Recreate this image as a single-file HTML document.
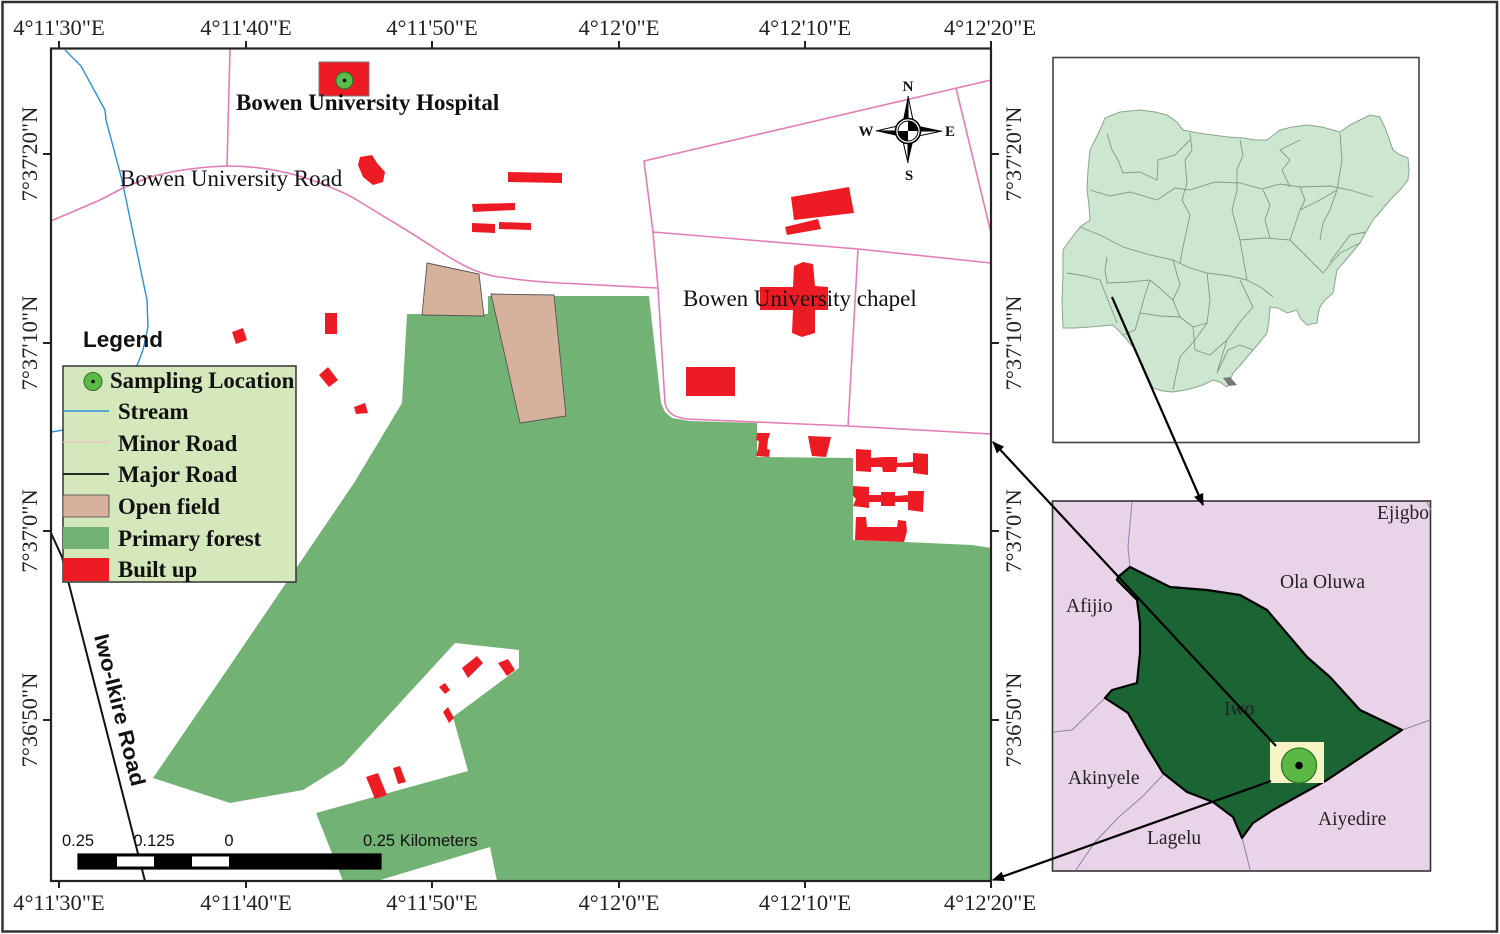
<!DOCTYPE html>
<html><head><meta charset="utf-8"><style>
html,body{margin:0;padding:0;background:#fff;}
svg{display:block;}
.ax{font-family:"Liberation Serif",serif;font-size:22.5px;fill:#222;}
.lg{font-family:"Liberation Serif",serif;font-size:22.8px;font-weight:bold;fill:#111;}
.lb{font-family:"Liberation Serif",serif;font-size:23px;fill:#111;}
.ins{font-family:"Liberation Serif",serif;font-size:19.5px;fill:#222;}
.sc{font-family:"Liberation Sans",sans-serif;font-size:16.5px;fill:#111;}
</style></head><body>
<svg width="1500" height="934" viewBox="0 0 1500 934" xmlns="http://www.w3.org/2000/svg">
<defs>
<marker id="ah" viewBox="0 0 12 10" refX="11" refY="5" markerWidth="12" markerHeight="10" markerUnits="userSpaceOnUse" orient="auto">
<path d="M0,0 L12,5 L0,10 Z" fill="#000"/>
</marker>
</defs>
<rect x="0" y="0" width="1500" height="934" fill="#fff"/>
<rect x="2.5" y="2" width="1494.5" height="929.5" fill="none" stroke="#333" stroke-width="2.5"/>

<!-- forest -->
<path d="M407,314 L488,314 L488,296 L649,296 L661,403 L665,412 L672,418 L690,421 L757,423 L757,457 L853,458 L853,540 L905,542 L972,545 L991,548 L991,881 L497,881 L490,847 L377,881 L343,881 L316,813 L468,771 L453,717 L519,668 L519,650 L455,643 L343,765 L303,790 L230,803 L153,778 L227,670 L354,483 L402,403 Z" fill="#72b274"/>
<!-- open fields -->
<polygon points="427,263 479,274 484,316 422,315" fill="#d6b19c" stroke="#555" stroke-width="0.9"/>
<polygon points="491,294 554,295 566,416 520,423" fill="#d6b19c" stroke="#555" stroke-width="0.9"/>

<!-- roads (pink) -->
<g fill="none" stroke="#e47db5" stroke-width="1.6">
<path d="M51,221 L100,200 L123,188 L150,177 C175,170 200,167 227,166 C260,166 290,172 317,182 C335,189 350,195 360,202 C375,211 385,217 393,222 C410,232 425,242 433,247 C447,256 457,262 467,267 C480,273 490,276 500,277 C520,280 540,282 560,283 L657,288"/>
<path d="M230,49 L227,166"/>
<path d="M991,80 L644,161 L653,232 L658,288 L665,403 C667,412 672,417 687,419 L848,426 L991,434"/>
<path d="M653,232 L858,249 L991,263"/>
<path d="M858,249 L848,426"/>
<path d="M956,88 L991,233"/>
</g>

<!-- stream -->
<path d="M65,50 L81,66 L105,110 L106,120 L122,180 L133,233 L147,300 L148,327 L143,350 L138,363 L125,390 L100,418 L70,429 L51,432" fill="none" stroke="#2a8fdc" stroke-width="1.4"/>

<!-- major road -->
<path d="M51,533 L62,557 L145,881" fill="none" stroke="#111" stroke-width="2"/>

<!-- built up -->
<g fill="#ed1c24">
<rect x="319" y="62" width="50" height="34" stroke="#777" stroke-width="1"/>
<polygon points="360,157 372,155 377,163 385,172 383,182 373,185 363,177 358,165"/>
<polygon points="508,172 562,173 562,183 508,182"/>
<polygon points="472,204 515,203 515,210 473,212"/>
<polygon points="472,223 495,224 495,233 472,232"/>
<polygon points="499,222 531,223 531,230 499,229"/>
<polygon points="791,197 849,187 854,213 794,220"/>
<polygon points="785,227 818,219 821,229 787,235"/>
<polygon points="803,262 813,264 815,286 828,287 828,310 815,310 815,333 802,337 792,333 793,310 760,310 760,287 793,287 794,266"/>
<rect x="686" y="367" width="49" height="29"/>
<polygon points="757,433 770,433 768,440 767,449 770,450 769,457 756,456 758,449 759,441 756,440"/>
<polygon points="808,436 831,437 828,450 826,457 812,456 810,447"/>
<polygon points="856,449 871,450 871,458 883,457 897,457 897,463 913,462 913,453 928,454 928,475 913,473 913,467 897,467 896,472 883,472 882,467 871,467 871,472 856,471"/>
<polygon points="853,486 869,487 869,495 881,495 881,492 895,492 895,496 908,495 908,491 924,491 923,512 908,510 908,502 895,502 895,506 881,506 881,502 869,502 869,508 853,506 856,499 853,496"/>
<polygon points="856,517 866,517 867,527 897,527 898,520 906,521 907,531 904,542 855,540"/>
<polygon points="232,332 243,328 247,340 236,344"/>
<rect x="325" y="313" width="12" height="21"/>
<polygon points="319,375 328,367 338,380 329,387"/>
<polygon points="354,407 365,403 368,413 356,414"/>
<polygon points="462,668 477,656 483,663 468,678"/>
<polygon points="498,663 508,659 515,670 507,676"/>
<polygon points="439,687 445,683 450,690 445,694"/>
<polygon points="443,712 448,707 454,718 449,723"/>
<polygon points="366,777 378,773 387,795 375,799"/>
<polygon points="393,768 400,766 406,782 398,784"/>
</g>
<!-- hospital sampling marker -->
<circle cx="344.5" cy="80.5" r="8.5" fill="#5cba47" stroke="#2e6e2e" stroke-width="1"/>
<circle cx="344.5" cy="80.5" r="1.8" fill="#000"/>

<!-- map labels -->
<text x="236" y="110" class="lb" font-weight="bold">Bowen University Hospital</text>
<text x="120" y="186" class="lb">Bowen University Road</text>
<text x="683" y="306" class="lb">Bowen University chapel</text>
<text transform="translate(94,636) rotate(76)" font-family="Liberation Sans, sans-serif" font-size="21" font-weight="bold" fill="#111" textLength="156" lengthAdjust="spacingAndGlyphs">Iwo-Ikire Road</text>

<!-- compass -->
<g transform="translate(908,131)">
<polygon points="0,-35 -6,-6 0,0" fill="#000"/>
<polygon points="0,-35 6,-6 0,0" fill="#fff" stroke="#000" stroke-width="1"/>
<polygon points="0,32 6,6 0,0" fill="#000"/>
<polygon points="0,32 -6,6 0,0" fill="#fff" stroke="#000" stroke-width="1"/>
<polygon points="-32,0 -6,6 0,0" fill="#000"/>
<polygon points="-32,0 -6,-6 0,0" fill="#fff" stroke="#000" stroke-width="1"/>
<polygon points="34,0 6,-6 0,0" fill="#000"/>
<polygon points="34,0 6,6 0,0" fill="#fff" stroke="#000" stroke-width="1"/>
<circle r="12.5" fill="#fff" stroke="#000" stroke-width="1.6"/>
<path d="M0,0 L0,-10 A10,10 0 0 1 10,0 Z" fill="#000"/>
<path d="M0,0 L0,10 A10,10 0 0 1 -10,0 Z" fill="#000"/>
<circle r="10" fill="none" stroke="#000" stroke-width="1"/>
</g>
<g font-family="Liberation Serif, serif" font-size="15" font-weight="bold" fill="#111" text-anchor="middle">
<text x="908" y="91">N</text>
<text x="909" y="180">S</text>
<text x="866" y="136">W</text>
<text x="950" y="136">E</text>
</g>

<!-- scale bar -->
<g stroke="#000" stroke-width="1.2">
<rect x="78" y="854" width="303" height="15" fill="#000"/>
<rect x="117" y="856.5" width="37" height="10" fill="#fff" stroke="none"/>
<rect x="192" y="856.5" width="37" height="10" fill="#fff" stroke="none"/>
</g>
<text x="78" y="846" class="sc" text-anchor="middle">0.25</text>
<text x="154" y="846" class="sc" text-anchor="middle">0.125</text>
<text x="229" y="846" class="sc" text-anchor="middle">0</text>
<text x="363" y="846" class="sc">0.25 Kilometers</text>

<!-- legend -->
<text x="83" y="347" font-family="Liberation Sans, sans-serif" font-size="22.5" font-weight="bold" fill="#111">Legend</text>
<rect x="63" y="366" width="233" height="216" fill="#d4e8bc" stroke="#333" stroke-width="1.5"/>
<circle cx="93" cy="381.5" r="9" fill="#5cba47" stroke="#2e6e2e" stroke-width="1"/>
<circle cx="93" cy="381.5" r="1.8" fill="#000"/>
<line x1="63" y1="411" x2="109" y2="411" stroke="#2a8fdc" stroke-width="1.5"/>
<line x1="63" y1="442" x2="109" y2="442" stroke="#f0bcc4" stroke-width="1.2"/>
<line x1="63" y1="474" x2="109" y2="474" stroke="#111" stroke-width="1.8"/>
<rect x="63" y="495" width="46" height="22" fill="#d6b19c" stroke="#555" stroke-width="0.9"/>
<rect x="63" y="527" width="46" height="22" fill="#72b274"/>
<rect x="63" y="558" width="46" height="23" fill="#ed1c24"/>
<text x="110" y="388" class="lg">Sampling Location</text>
<text x="118" y="419" class="lg">Stream</text>
<text x="118" y="451" class="lg">Minor Road</text>
<text x="118" y="482" class="lg">Major Road</text>
<text x="118" y="514" class="lg">Open field</text>
<text x="118" y="546" class="lg">Primary forest</text>
<text x="118" y="577" class="lg">Built up</text>

<!-- frame & ticks -->
<rect x="51" y="48.5" width="940" height="832.5" fill="none" stroke="#222" stroke-width="2.2"/>
<g stroke="#222" stroke-width="2">
<line x1="59" y1="41" x2="59" y2="48"/><line x1="246" y1="41" x2="246" y2="48"/><line x1="432" y1="41" x2="432" y2="48"/><line x1="619" y1="41" x2="619" y2="48"/><line x1="805" y1="41" x2="805" y2="48"/><line x1="991" y1="41" x2="991" y2="48"/>
<line x1="59" y1="881" x2="59" y2="888"/><line x1="246" y1="881" x2="246" y2="888"/><line x1="432" y1="881" x2="432" y2="888"/><line x1="619" y1="881" x2="619" y2="888"/><line x1="805" y1="881" x2="805" y2="888"/><line x1="991" y1="881" x2="991" y2="888"/>
<line x1="43" y1="154" x2="51" y2="154"/><line x1="43" y1="343" x2="51" y2="343"/><line x1="43" y1="531" x2="51" y2="531"/><line x1="43" y1="720" x2="51" y2="720"/>
<line x1="991" y1="154" x2="999" y2="154"/><line x1="991" y1="343" x2="999" y2="343"/><line x1="991" y1="531" x2="999" y2="531"/><line x1="991" y1="720" x2="999" y2="720"/>
</g>
<g class="ax" text-anchor="middle">
<text x="59" y="35">4°11'30"E</text><text x="246" y="35">4°11'40"E</text><text x="432" y="35">4°11'50"E</text><text x="619" y="35">4°12'0"E</text><text x="805" y="35">4°12'10"E</text><text x="990" y="35">4°12'20"E</text>
<text x="59" y="910">4°11'30"E</text><text x="246" y="910">4°11'40"E</text><text x="432" y="910">4°11'50"E</text><text x="619" y="910">4°12'0"E</text><text x="805" y="910">4°12'10"E</text><text x="990" y="910">4°12'20"E</text>
<text transform="translate(37,154) rotate(-90)">7°37'20"N</text>
<text transform="translate(37,343) rotate(-90)">7°37'10"N</text>
<text transform="translate(37,531) rotate(-90)">7°37'0"N</text>
<text transform="translate(37,720) rotate(-90)">7°36'50"N</text>
<text transform="translate(1021,154) rotate(-90)">7°37'20"N</text>
<text transform="translate(1021,343) rotate(-90)">7°37'10"N</text>
<text transform="translate(1021,531) rotate(-90)">7°37'0"N</text>
<text transform="translate(1021,720) rotate(-90)">7°36'50"N</text>
</g>

<!-- Nigeria inset -->
<rect x="1053" y="57.5" width="366" height="385" fill="#fff" stroke="#444" stroke-width="1.6"/>
<polygon points="1105,118 1120,112 1140,110 1155,112 1167,115 1177,122 1183,130 1198,133 1213,135 1228,137 1243,138 1255,140 1267,140 1275,134 1280,130 1292,127 1307,125 1322,127 1340,132 1350,125 1360,120 1370,115 1380,117 1386,130 1393,150 1400,155 1408,158 1409,170 1408,180 1400,190 1390,200 1380,212 1373,220 1366,232 1360,243 1350,255 1337,270 1335,282 1333,293 1325,300 1320,307 1318,315 1317,323 1307,325 1300,318 1297,310 1287,313 1278,308 1270,307 1269,320 1267,333 1260,342 1253,350 1243,362 1233,373 1230,380 1227,387 1220,382 1213,380 1205,384 1197,387 1185,390 1173,392 1163,391 1153,388 1145,370 1138,355 1133,347 1123,335 1113,325 1090,327 1075,328 1063,328 1062,300 1063,275 1063,250 1070,240 1080,227 1090,220 1089,205 1087,190 1088,170 1090,150 1095,140 1100,130" fill="#cde6cf" stroke="#8aa58d" stroke-width="1"/>
<g fill="none" stroke="#7f9a83" stroke-width="0.9">
<path d="M1080,227 L1100,235 L1123,247 L1150,255 L1173,260 L1190,268 L1207,273 L1230,276 L1247,280 L1262,288 L1273,297"/>
<path d="M1190,133 L1192,150 L1185,160 L1187,183 L1182,200 L1190,215 L1183,247 L1180,263"/>
<path d="M1240,140 L1243,155 L1237,170 L1237,190 L1232,210 L1240,240 L1247,280"/>
<path d="M1340,133 L1342,160 L1337,190 L1330,210 L1323,223 L1320,240"/>
<path d="M1107,133 L1112,150 L1118,160 L1123,173 L1140,172 L1157,180"/>
<path d="M1090,190 L1110,196 L1130,192 L1157,200 L1175,188 L1190,190 L1215,182 L1240,183 L1262,189 L1280,184 L1300,187 L1330,186 L1350,190 L1373,197"/>
<path d="M1207,273 L1210,300 L1207,323 L1195,340 L1180,357 L1176,375 L1173,390"/>
<path d="M1107,257 L1105,270 L1107,283 L1130,282 L1150,280 L1162,290 L1173,300"/>
<path d="M1240,280 L1253,307 L1240,322 L1227,340 L1222,356 L1217,373"/>
<path d="M1290,240 L1305,255 L1323,273 L1332,262 L1340,253 L1360,243"/>
<path d="M1067,273 L1085,276 L1100,280 L1108,300 L1117,323"/>
<path d="M1140,313 L1160,316 L1180,317 L1193,327 L1207,323"/>
<path d="M1157,180 L1158,160 L1175,155 L1190,140"/>
<path d="M1290,187 L1282,170 L1290,160 L1280,150 L1300,140"/>
<path d="M1150,280 L1145,295 L1140,313"/>
<path d="M1240,240 L1265,238 L1290,240 L1296,222 L1300,210 L1320,200 L1337,190"/>
<path d="M1300,187 L1305,200 L1300,210"/>
<path d="M1173,260 L1180,285 L1173,300 L1180,317"/>
<path d="M1217,373 L1228,350 L1240,345 L1253,350"/>
<path d="M1193,327 L1195,350 L1210,355 L1227,340"/>
<path d="M1123,335 L1135,330 L1140,313"/>
<path d="M1263,190 L1270,205 L1265,220 L1270,238"/>
<path d="M1366,232 L1350,235 L1330,262"/>
</g>
<polygon points="1223,378 1230,377 1237,385 1229,386" fill="#777"/>

<!-- Osun/Iwo inset -->
<rect x="1052.5" y="501" width="378" height="370" fill="#e9d3e8" stroke="#333" stroke-width="1.6"/>
<g fill="none" stroke="#8e83a8" stroke-width="1">
<path d="M1132,502 L1128,547 L1130,567"/>
<path d="M1053,732 L1072,730 L1105,698"/>
<path d="M1163,775 L1143,796 L1120,816 L1095,842 L1076,870"/>
<path d="M1242,838 L1247,857 L1250,870"/>
<path d="M1402,730 L1430,720"/>
<path d="M1427,502 L1431,510"/>
</g>
<polygon points="1130,567 1118,577 1117,580 1137,600 1140,623 1140,653 1137,683 1112,690 1105,698 1128,713 1147,747 1163,773 1187,792 1213,802 1233,817 1242,838 1253,823 1273,810 1327,780 1402,730 1360,710 1330,677 1307,657 1267,610 1240,595 1207,590 1170,587 1150,577" fill="#1b6434" stroke="#000" stroke-width="2.2" stroke-linejoin="round"/>
<rect x="1270" y="742" width="54" height="41" fill="#f6f3c4"/>
<circle cx="1299" cy="765.5" r="17.5" fill="#5cb845" stroke="#2b7a2b" stroke-width="1.3"/>
<circle cx="1299" cy="765.5" r="3.8" fill="#000"/>
<text x="1377" y="519" class="ins">Ejigbo</text>
<text x="1280" y="588" class="ins">Ola Oluwa</text>
<text x="1066" y="612" class="ins">Afijio</text>
<text x="1224" y="715" class="ins" fill="#111">Iwo</text>
<text x="1068" y="784" class="ins">Akinyele</text>
<text x="1318" y="825" class="ins">Aiyedire</text>
<text x="1147" y="844" class="ins">Lagelu</text>

<!-- connectors -->
<g stroke="#000" stroke-width="2.2" fill="none">
<line x1="1112" y1="297" x2="1203" y2="505" marker-end="url(#ah)"/>
<line x1="1276" y1="746" x2="993" y2="442" marker-end="url(#ah)"/>
<line x1="1271" y1="781" x2="993" y2="880" marker-end="url(#ah)"/>
</g>
</svg>
</body></html>
